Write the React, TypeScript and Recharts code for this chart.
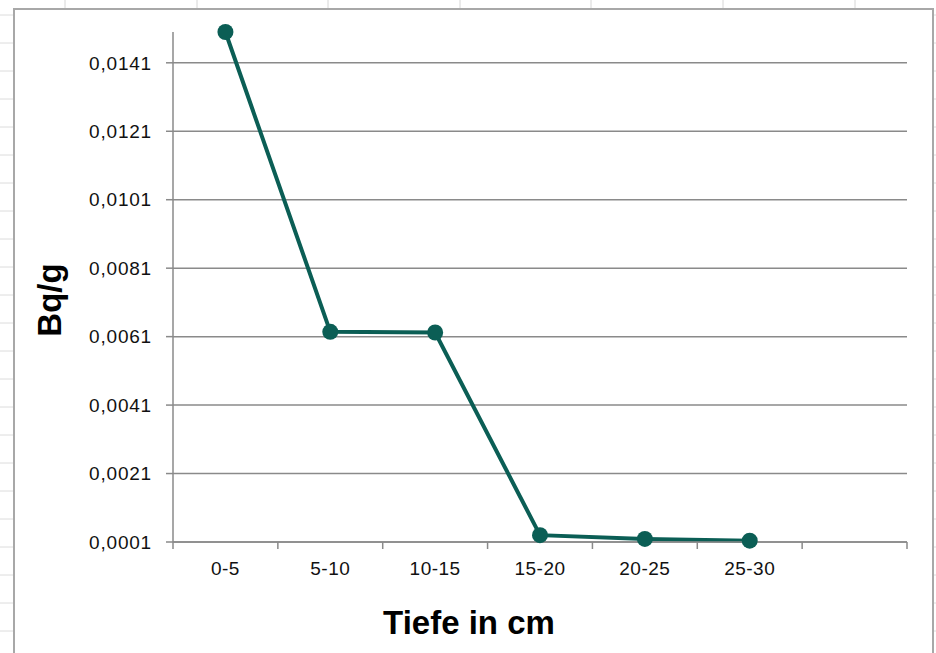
import React from "react";
import { LineChart, Line, XAxis, YAxis, CartesianGrid } from "recharts";

const categories = ["0-5", "5-10", "10-15", "15-20", "20-25", "25-30", ""];
const values = [0.015, 0.00624, 0.00622, 0.0003, 0.00019, 0.00014];
const yTicks = [0.0001, 0.0021, 0.0041, 0.0061, 0.0081, 0.0101, 0.0121, 0.0141];
const yDomain = [0.0001, 0.015];

const data = values.map((v, i) => ({ x: i + 0.5, name: categories[i], value: v }));
const xTicks: number[] = [];
for (let i = 0; i <= categories.length; i++) {
  xTicks.push(i);
  if (i < categories.length) xTicks.push(i + 0.5);
}

const FONT = "'Liberation Sans', Arial, sans-serif";
const LINE_COLOR = "#0b5e55";
const AXIS_COLOR = "#8a8a8a";

const fmt = (v: number) => v.toFixed(4).replace(".", ",");

const XTick = (props: any) => {
  const { x, y, payload } = props;
  const v = payload.value as number;
  if (Number.isInteger(v)) {
    return <line x1={x} x2={x} y1={y - 7} y2={y} stroke={AXIS_COLOR} strokeWidth={1.5} />;
  }
  const label = categories[Math.floor(v)] || "";
  return (
    <text x={x} y={y + 26} textAnchor="middle" fontSize={19} fontFamily={FONT} fill="#111" letterSpacing={0.5}>
      {label}
    </text>
  );
};

const YLabel = (props: any) => {
  const vb = props.viewBox;
  const cx = vb.x + 61;
  const cy = vb.y + vb.height / 2 + 13;
  return (
    <text x={cx} y={cy} transform={`rotate(-90, ${cx}, ${cy})`} textAnchor="middle" fontSize={33} fontWeight="bold" fontFamily={FONT} fill="#000">
      Bq/g
    </text>
  );
};

const XLabel = (props: any) => {
  const vb = props.viewBox;
  const cx = vb.x + vb.width / 2 - 71;
  return (
    <text x={cx} y={vb.y + 92} textAnchor="middle" fontSize={33} fontWeight="bold" fontFamily={FONT} fill="#000">
      Tiefe in cm
    </text>
  );
};

const colsX = [65, 197, 328, 460, 591, 723, 855];
const rowsY: number[] = [];
for (let y = 15; y < 653; y += 28) rowsY.push(y);

export default function App() {
  return (
    <div style={{ position: "fixed", left: 0, top: 0, width: 936, height: 653, background: "#fff", overflow: "hidden" }}>
      <svg width={936} height={653} style={{ position: "absolute", left: 0, top: 0 }}>
        {colsX.map((x) => (
          <line key={"c" + x} x1={x} x2={x} y1={0} y2={653} stroke="#d6d6d6" strokeWidth={1} />
        ))}
        {rowsY.map((y) => (
          <line key={"r" + y} x1={0} x2={936} y1={y} y2={y} stroke="#dcdcdc" strokeWidth={1} />
        ))}
      </svg>
      <div
        style={{
          position: "absolute",
          left: 13,
          top: 8,
          width: 917,
          height: 700,
          border: "2px solid #a8a8a8",
          background: "#fff",
        }}
      />
      <div style={{ position: "absolute", left: 0, top: 0 }}>
        <LineChart width={936} height={653} data={data} margin={{ top: 32, right: 29, bottom: 0, left: 0 }}>
          <CartesianGrid vertical={false} horizontalValues={yTicks} stroke={AXIS_COLOR} strokeWidth={1.5} />
          <XAxis
            dataKey="x"
            type="number"
            domain={[0, categories.length]}
            ticks={xTicks}
            interval={0}
            height={111}
            tickLine={false}
            tickSize={7}
            tickMargin={0}
            axisLine={{ stroke: AXIS_COLOR, strokeWidth: 1.5 }}
            tick={<XTick />}
            label={{ content: XLabel }}
          />
          <YAxis
            type="number"
            domain={yDomain}
            ticks={yTicks}
            interval={0}
            width={173}
            tickSize={7}
            tickMargin={14}
            tickFormatter={fmt}
            tickLine={{ stroke: AXIS_COLOR, strokeWidth: 1.5 }}
            axisLine={{ stroke: AXIS_COLOR, strokeWidth: 1.5 }}
            tick={{ fontSize: 19, fontFamily: FONT, fill: "#111", letterSpacing: 0.8 } as any}
            label={{ content: YLabel }}
          />
          <Line
            type="linear"
            dataKey="value"
            stroke={LINE_COLOR}
            strokeWidth={4}
            dot={{ r: 8, fill: LINE_COLOR, stroke: LINE_COLOR, strokeWidth: 0, clipDot: false } as any}
            activeDot={false}
            isAnimationActive={false}
          />
        </LineChart>
      </div>
    </div>
  );
}
